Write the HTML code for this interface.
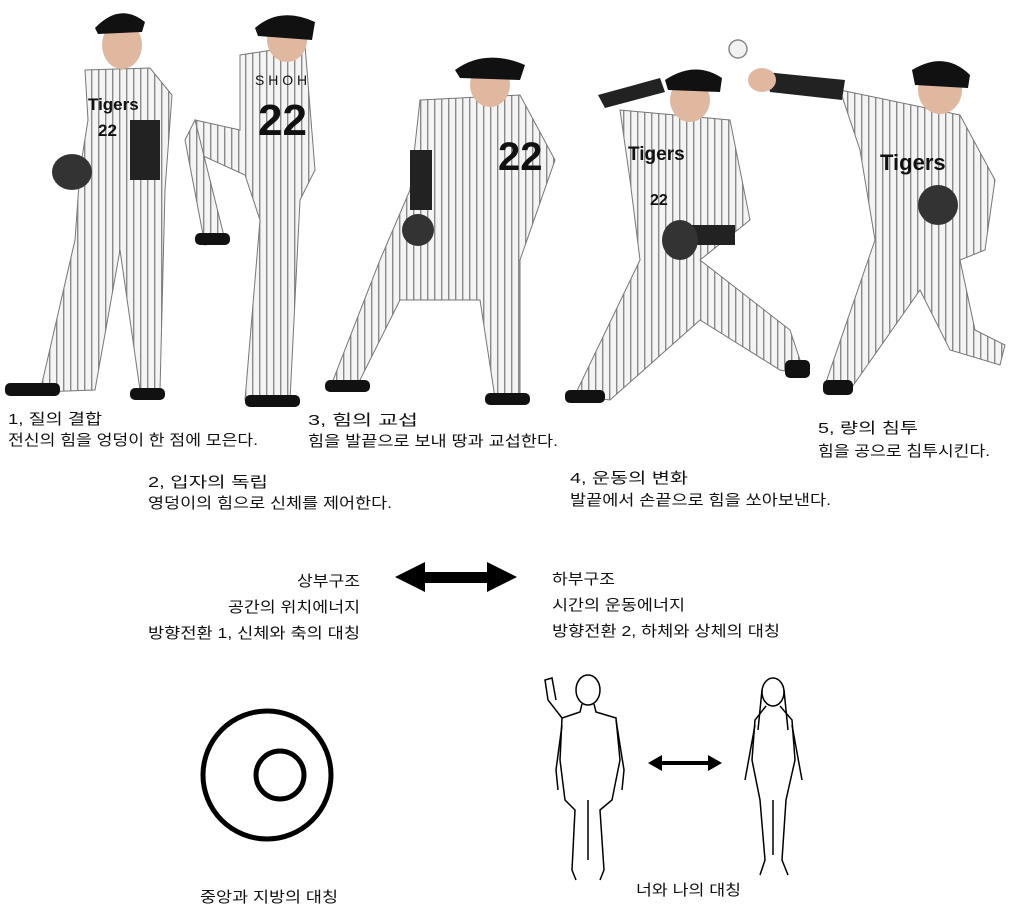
<!DOCTYPE html>
<html><head><meta charset="utf-8"><style>
html,body{margin:0;padding:0;background:#fff;}
svg{display:block;}
text{font-family:"Liberation Sans","Noto Sans CJK KR","NanumGothic",sans-serif;font-size:15px;fill:#111;}
</style></head><body>
<svg width="1015" height="915" viewBox="0 0 1015 915">
<defs>
<pattern id="stripes" width="7" height="10" patternUnits="userSpaceOnUse">
<rect width="7" height="10" fill="#f4f4f4"/><rect width="1.4" height="10" fill="#8a8a8a"/>
</pattern>
</defs>

<g>
<path d="M85,70 L150,68 L172,95 L165,190 L160,390 L140,390 L120,250 L95,390 L40,392 L75,240 L80,170 L88,120 Z" fill="url(#stripes)" stroke="#777"/>
<ellipse cx="122" cy="45" rx="20" ry="24" fill="#e0b8a0"/>
<path d="M95,28 Q120,2 145,22 L142,32 L98,34 Z" fill="#111"/>
<rect x="130" y="120" width="30" height="60" fill="#222"/>
<ellipse cx="72" cy="172" rx="20" ry="18" fill="#333"/>
<rect x="5" y="383" width="55" height="13" rx="5" fill="#111"/>
<rect x="130" y="388" width="35" height="12" rx="5" fill="#111"/>
<text x="88" y="110" style="font-size:17px;font-weight:bold">Tigers</text>
<text x="98" y="136" style="font-size:17px;font-weight:bold">22</text>
</g>

<g>
<path d="M240,55 L305,45 L315,170 L300,200 L290,400 L245,400 L260,220 L245,175 L190,150 L195,120 L240,130 Z" fill="url(#stripes)" stroke="#777"/>
<path d="M195,120 L225,240 L205,245 L185,140 Z" fill="url(#stripes)" stroke="#777"/>
<ellipse cx="287" cy="40" rx="20" ry="22" fill="#e0b8a0"/>
<path d="M255,28 Q280,6 315,22 L312,40 L258,36 Z" fill="#111"/>
<rect x="195" y="233" width="35" height="12" rx="5" fill="#111"/>
<rect x="245" y="395" width="55" height="12" rx="5" fill="#111"/>
<text x="255" y="85" style="font-size:14px">S H O H</text>
<text x="258" y="135" style="font-size:44px;font-weight:bold;fill:#111">22</text>
</g>

<g>
<path d="M420,100 L520,95 L555,160 L520,260 L520,395 L495,398 L480,300 L400,300 L355,390 L330,388 L380,260 L410,190 Z" fill="url(#stripes)" stroke="#777"/>
<ellipse cx="490" cy="85" rx="20" ry="22" fill="#e0b8a0"/>
<path d="M455,70 Q485,48 525,65 L520,80 L460,78 Z" fill="#111"/>
<rect x="410" y="150" width="22" height="60" fill="#222"/>
<ellipse cx="418" cy="230" rx="16" ry="16" fill="#333"/>
<rect x="325" y="380" width="45" height="12" rx="5" fill="#111"/>
<rect x="485" y="393" width="45" height="12" rx="5" fill="#111"/>
<text x="498" y="170" style="font-size:40px;font-weight:bold;fill:#111">22</text>
</g>

<g>
<path d="M620,110 L730,120 L750,220 L700,260 L790,330 L805,375 L780,370 L700,320 L610,400 L575,395 L640,260 L630,180 Z" fill="url(#stripes)" stroke="#777"/>
<ellipse cx="690" cy="100" rx="20" ry="22" fill="#e0b8a0"/>
<path d="M665,80 Q695,60 722,78 L720,92 L668,90 Z" fill="#111"/>
<path d="M598,95 L660,78 L665,92 L605,108 Z" fill="#222"/>
<rect x="690" y="225" width="45" height="20" fill="#222"/>
<ellipse cx="680" cy="240" rx="18" ry="20" fill="#333"/>
<rect x="565" y="390" width="40" height="13" rx="5" fill="#111"/>
<rect x="785" y="360" width="25" height="18" rx="5" fill="#111"/>
<text x="628" y="160" style="font-size:19px;font-weight:bold">Tigers</text>
<text x="650" y="205" style="font-size:16px;font-weight:bold">22</text>
<circle cx="738" cy="49" r="9" fill="#f2f2f2" stroke="#888" stroke-width="1.5"/>
</g>

<g>
<path d="M840,90 L960,115 L995,180 L985,250 L960,260 L975,330 L1005,345 L1000,365 L950,350 L920,290 L850,390 L825,385 L875,240 L860,150 Z" fill="url(#stripes)" stroke="#777"/>
<ellipse cx="940" cy="90" rx="22" ry="24" fill="#e0b8a0"/>
<path d="M912,70 Q945,50 970,75 L968,88 L915,85 Z" fill="#111"/>
<path d="M765,72 L845,80 L842,100 L770,92 Z" fill="#222"/>
<ellipse cx="762" cy="80" rx="14" ry="12" fill="#e0b8a0"/>
<ellipse cx="938" cy="205" rx="20" ry="20" fill="#333"/>
<rect x="823" y="380" width="30" height="15" rx="5" fill="#111"/>
<text x="880" y="170" style="font-size:22px;font-weight:bold">Tigers</text>
</g>

<text x="8" y="424" textLength="94" lengthAdjust="spacingAndGlyphs">1, 질의 결합</text>
<text x="8" y="445" textLength="250" lengthAdjust="spacingAndGlyphs">전신의 힘을 엉덩이 한 점에 모은다.</text>
<text x="148" y="487" textLength="120" lengthAdjust="spacingAndGlyphs">2, 입자의 독립</text>
<text x="148" y="508" textLength="244" lengthAdjust="spacingAndGlyphs">영덩이의 힘으로 신체를 제어한다.</text>
<text x="308" y="425" textLength="110" lengthAdjust="spacingAndGlyphs">3, 힘의 교섭</text>
<text x="308" y="446" textLength="250" lengthAdjust="spacingAndGlyphs">힘을 발끝으로 보내 땅과 교섭한다.</text>
<text x="570" y="483" textLength="118" lengthAdjust="spacingAndGlyphs">4, 운동의 변화</text>
<text x="570" y="505" textLength="261" lengthAdjust="spacingAndGlyphs">발끝에서 손끝으로 힘을 쏘아보낸다.</text>
<text x="818" y="433" textLength="100" lengthAdjust="spacingAndGlyphs">5, 량의 침투</text>
<text x="818" y="456" textLength="172" lengthAdjust="spacingAndGlyphs">힘을 공으로 침투시킨다.</text>

<text x="297" y="586" textLength="63" lengthAdjust="spacingAndGlyphs">상부구조</text>
<text x="228" y="612" textLength="132" lengthAdjust="spacingAndGlyphs">공간의 위치에너지</text>
<text x="148" y="638" textLength="212" lengthAdjust="spacingAndGlyphs">방향전환 1, 신체와 축의 대칭</text>
<text x="552" y="584" textLength="63" lengthAdjust="spacingAndGlyphs">하부구조</text>
<text x="552" y="610" textLength="133" lengthAdjust="spacingAndGlyphs">시간의 운동에너지</text>
<text x="552" y="636" textLength="228" lengthAdjust="spacingAndGlyphs">방향전환 2, 하체와 상체의 대칭</text>

<g>
<rect x="418" y="572" width="76" height="11" fill="#000"/>
<polygon points="395,577 425,562 425,592" fill="#000"/>
<polygon points="517,577 487,562 487,592" fill="#000"/>
</g>

<g fill="none" stroke="#000" stroke-width="5">
<circle cx="267" cy="775" r="64"/>
<circle cx="280" cy="775" r="24"/>
</g>
<text x="200" y="902" textLength="138" lengthAdjust="spacingAndGlyphs">중앙과 지방의 대칭</text>

<g fill="none" stroke="#000" stroke-width="1.5">
<ellipse cx="588" cy="690" rx="12" ry="15"/>
<path d="M582,704 L580,712 L562,718 L560,760 L565,800 L575,810 L572,870 L576,880 M594,704 L596,712 L616,718 L620,760 L612,800 L600,810 L604,870 L600,880"/>
<path d="M562,718 L548,700 L545,680 L552,678 L556,700 M616,720 L624,770 L622,790 M562,725 L556,770 L558,790"/>
<path d="M588,800 L588,860"/>
</g>
<g fill="none" stroke="#000" stroke-width="1.5">
<ellipse cx="773" cy="692" rx="11" ry="14"/>
<path d="M762,690 L758,730 M784,690 L788,730"/>
<path d="M766,706 L755,720 L752,760 L760,800 L765,860 L760,875 M780,706 L792,720 L795,760 L786,800 L782,860 L788,875"/>
<path d="M755,725 L745,780 M792,725 L802,780 M773,800 L773,855"/>
</g>
<g>
<rect x="660" y="761" width="50" height="4" fill="#000"/>
<polygon points="648,763 662,755 662,771" fill="#000"/>
<polygon points="722,763 708,755 708,771" fill="#000"/>
</g>
<text x="636" y="895" textLength="105" lengthAdjust="spacingAndGlyphs">너와 나의 대칭</text>
</svg>
</body></html>
